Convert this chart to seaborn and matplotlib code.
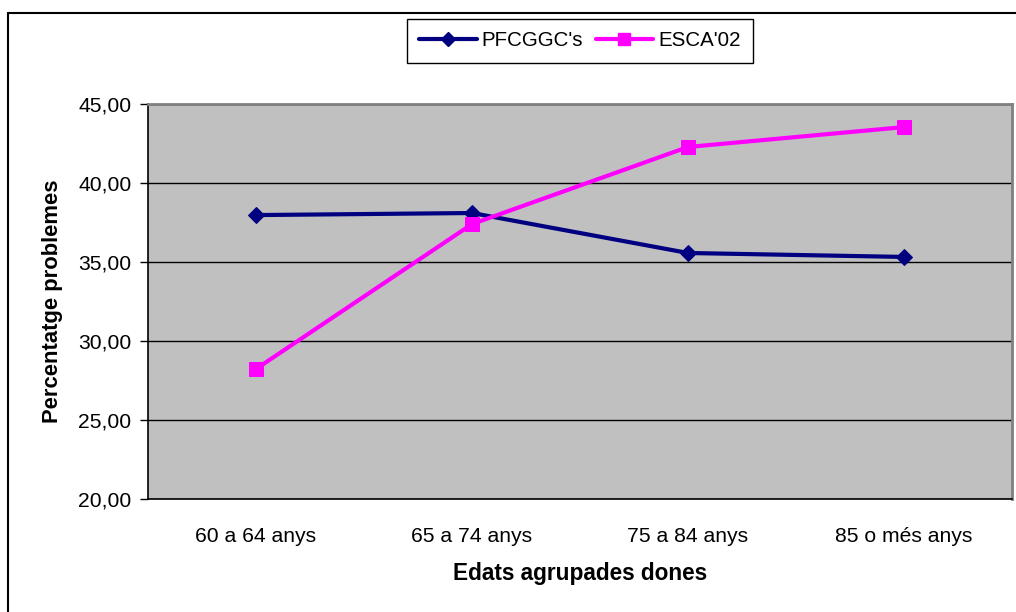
import matplotlib
matplotlib.use("Agg")
import matplotlib.pyplot as plt
from matplotlib.lines import Line2D
from matplotlib.ticker import FixedLocator, FuncFormatter
import seaborn as sns
import pandas as pd

# Age groups (women) and share of people reporting problems, two sources
categories = ["60 a 64 anys", "65 a 74 anys", "75 a 84 anys", "85 o més anys"]
pfcggc = [37.97, 38.10, 35.57, 35.32]
esca02 = [28.23, 37.40, 42.28, 43.54]
series_names = ["PFCGGC's", "ESCA'02"]

df = pd.DataFrame({
    "edat": categories * 2,
    "valor": pfcggc + esca02,
    "font": [series_names[0]] * 4 + [series_names[1]] * 4,
})

sns.set_theme(style="white")
plt.rcParams["font.family"] = ["Liberation Sans", "DejaVu Sans"]
plt.rcParams["text.color"] = "black"
plt.rcParams["axes.labelcolor"] = "black"
plt.rcParams["xtick.color"] = "black"
plt.rcParams["ytick.color"] = "black"

fig = plt.figure(figsize=(10.16, 6.12), dpi=100)
ax = fig.add_axes([148 / 1016, 1 - 499 / 612, (1012 - 148) / 1016, (499 - 104) / 612])
ax.set_facecolor("#c0c0c0")

palette = {series_names[0]: "#000080", series_names[1]: "#ff00ff"}
markers = {series_names[0]: "D", series_names[1]: "s"}
sizes = {series_names[0]: 8.5, series_names[1]: 9.5}

for name in series_names:
    sub = df[df["font"] == name]
    sns.lineplot(data=sub, x="edat", y="valor", ax=ax, color=palette[name],
                 marker=markers[name], markersize=sizes[name],
                 markeredgecolor=palette[name], linewidth=3.0,
                 label=name, sort=False, zorder=3)

ax.set_xlim(-0.5, 3.5)
ax.set_ylim(20, 45)
ax.set_yticks([20, 25, 30, 35, 40, 45])
ax.yaxis.set_major_formatter(FuncFormatter(lambda v, p: f"{v:.2f}".replace(".", ",")))
ax.grid(axis="y", color="black", linewidth=1.0)
ax.set_axisbelow(True)

# category labels centred, tick marks on the boundaries between categories
ax.set_xticks(range(len(categories)))
ax.set_xticklabels(categories)
ax.xaxis.set_minor_locator(FixedLocator([-0.5, 0.5, 1.5, 2.5, 3.5]))
ax.tick_params(axis="x", which="major", length=0, pad=20, labelsize=15.2)
ax.tick_params(axis="x", which="minor", length=6, width=1, color="black", direction="out")
ax.tick_params(axis="y", length=6, width=1, color="black", direction="out",
               left=True, pad=6, labelsize=15.2)

for side in ["top", "right"]:
    ax.spines[side].set_color("#808080")
    ax.spines[side].set_linewidth(2)
for side in ["left", "bottom"]:
    ax.spines[side].set_color("black")
    ax.spines[side].set_linewidth(1.2)

ax.set_xlabel("Edats agrupades dones", fontsize=16.3, fontweight="bold", labelpad=12)
ax.set_ylabel("Percentatge problemes", fontsize=15.8, fontweight="bold", labelpad=11)

ax.get_legend().remove()
handles = [Line2D([], [], color=palette[n], marker=markers[n], markersize=sizes[n] * 0.85,
                  linewidth=3.0) for n in series_names]
leg = fig.legend(handles, series_names, loc="upper center", ncol=2,
                 bbox_to_anchor=(580 / 1016, 1 - 19 / 612), fontsize=14.8,
                 frameon=True, fancybox=False, edgecolor="black", framealpha=1,
                 handlelength=2.8, columnspacing=0.6, handletextpad=0.25,
                 borderpad=0.6, borderaxespad=0)
leg.get_frame().set_linewidth(1.0)

# chart-area border along the top and left edges
fig.add_artist(Line2D([8 / 1016, 8 / 1016], [0, 1 - 13 / 612], transform=fig.transFigure,
                      color="black", linewidth=1.5))
fig.add_artist(Line2D([8 / 1016, 1], [1 - 13 / 612, 1 - 13 / 612], transform=fig.transFigure,
                      color="black", linewidth=1.5))

fig.savefig("out.png", dpi=100)
